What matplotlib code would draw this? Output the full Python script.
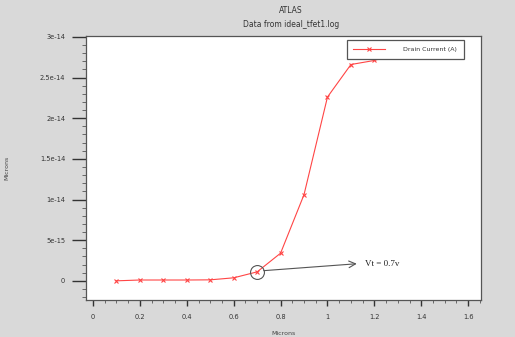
import matplotlib
matplotlib.use("Agg")
import matplotlib.pyplot as plt
from matplotlib.ticker import MultipleLocator

# drain current vs gate voltage
vg = [0.1, 0.2, 0.3, 0.4, 0.5, 0.6, 0.7, 0.8, 0.9, 1.0, 1.1, 1.2, 1.3]
drain_current = [0.0, 1e-16, 1e-16, 1e-16, 1.2e-16, 3.7e-16, 1.1e-15, 3.4e-15,
                 1.06e-14, 2.26e-14, 2.66e-14, 2.71e-14, 2.8e-14]
ytick_vals = [0, 5e-15, 1e-14, 1.5e-14, 2e-14, 2.5e-14, 3e-14]
ytick_labels = ["0", "5e-15", "1e-14", "1.5e-14", "2e-14", "2.5e-14", "3e-14"]
xtick_vals = [0, 0.2, 0.4, 0.6, 0.8, 1, 1.2, 1.4, 1.6]
xtick_labels = ["0", "0.2", "0.4", "0.6", "0.8", "1", "1.2", "1.4", "1.6"]
vt = 0.7

bg = "#d9d9d9"
red = "#ff4545"

fig = plt.figure(figsize=(5.15, 3.37), dpi=100, facecolor=bg)
ax = fig.add_axes([0.167, 0.110, 0.767, 0.783])
ax.set_facecolor("white")

ax.plot(vg, drain_current, color=red, lw=0.8, marker="x", ms=3.5, mew=0.8,
        label="Drain Current (A)")

ax.set_xlim(-0.03, 1.655)
ax.set_ylim(-2.35e-15, 3.01e-14)
ax.set_xticks(xtick_vals)
ax.set_xticklabels(xtick_labels)
ax.set_yticks(ytick_vals)
ax.set_yticklabels(ytick_labels)
ax.xaxis.set_minor_locator(MultipleLocator(0.05))
ax.yaxis.set_minor_locator(MultipleLocator(1e-15))

ax.tick_params(axis="y", which="major", length=10, width=1.0, labelsize=4.8,
               pad=5, colors="#333333")
ax.tick_params(axis="y", which="minor", length=3, width=0.6, colors="#555555")
ax.tick_params(axis="x", which="major", length=4, width=1.0, labelsize=4.8,
               pad=6, colors="#333333")
ax.tick_params(axis="x", which="minor", length=2.5, width=0.6, colors="#555555")
for s in ax.spines.values():
    s.set_color("#555555")
    s.set_linewidth(0.9)

ax.set_xlabel("Microns", fontsize=4.5, color="#444444", labelpad=8)
ax.set_ylabel("Microns", fontsize=4.5, color="#444444", labelpad=22)

fig.text(0.565, 0.968, "ATLAS", ha="center", va="center", fontsize=5.5,
         color="#333333")
fig.text(0.565, 0.928, "Data from ideal_tfet1.log", ha="center", va="center",
         fontsize=5.5, color="#333333")

leg = ax.legend(loc="upper left", bbox_to_anchor=(0.66, 0.985), fontsize=4.5,
                frameon=True, fancybox=False, framealpha=1, edgecolor="#555555",
                handlelength=5, borderpad=1.05, handletextpad=3,
                borderaxespad=0)
leg.get_frame().set_linewidth(0.9)
for t in leg.get_texts():
    t.set_color("#333333")

# threshold voltage marker
vt_i = vg.index(vt)
ax.plot([vt], [drain_current[vt_i]], marker="o", ms=10, mfc="none",
        mec="#555555", mew=0.8)
ax.annotate("", xy=(1.125, 2.1e-15), xytext=(0.728, 1.25e-15),
            arrowprops=dict(arrowstyle="->", color="#555555", lw=0.8,
                            mutation_scale=12, shrinkA=0, shrinkB=0))
ax.text(1.16, 2.1e-15, "Vt = 0.7v", family="Liberation Serif", fontsize=6.5,
        va="center", ha="left", color="#222222")

fig.savefig("out.png", dpi=100, facecolor=bg)
